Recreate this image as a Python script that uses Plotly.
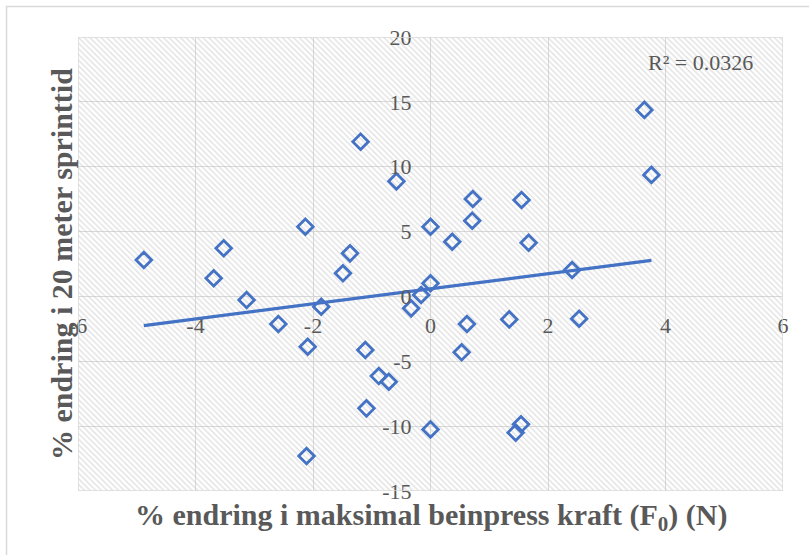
import numpy as np
import plotly.graph_objects as go

# Data
force_change = [-4.88, -3.69, -3.52, -3.13, -2.59, -2.13, -2.09, -2.11, -1.86, -1.49,
                -1.37, -1.19, -1.11, -1.09, -0.88, -0.71, -0.58, -0.33, -0.16, 0.00,
                0.00, 0.00, 0.37, 0.53, 0.62, 0.71, 0.72, 1.34, 1.45, 1.54,
                1.55, 1.67, 2.41, 2.53, 3.64, 3.76]
sprint_change = [2.81, 1.40, 3.71, -0.28, -2.13, 5.37, -3.88, -12.30, -0.79, 1.78,
                 3.32, 11.93, -4.13, -8.63, -6.14, -6.58, 8.87, -0.92, 0.11, 1.01,
                 5.37, -10.25, 4.22, -4.31, -2.13, 5.84, 7.51, -1.77, -10.50, -9.86,
                 7.43, 4.14, 2.04, -1.72, 14.38, 9.37]
x_ticks = [-6, -4, -2, 0, 2, 4, 6]
y_ticks = [-15, -10, -5, 0, 5, 10, 15, 20]
x_tick_labels = ["-6", "-4", "-2", "0", "2", "4", "6"]
y_tick_labels = ["-15", "-10", "-5", "0", "5", "10", "15", "20"]
x_title = "% endring i maksimal beinpress kraft (F<sub>0</sub>) (N)"
y_title = "% endring i 20 meter sprinttid"
r2_text = "R² = 0.0326"

BLUE = "#4472C4"
GRID = "#d9d9d9"
TXT = "#595959"
FONT = "Liberation Serif"

xr = [x_ticks[0], x_ticks[-1]]
yr = [y_ticks[0], y_ticks[-1]]

# linear trendline
slope, intercept = np.polyfit(force_change, sprint_change, 1)
tx = np.array([min(force_change), max(force_change)])
ty = slope * tx + intercept

fig = go.Figure()
# hatched plot-area background
fig.add_trace(go.Scatter(
    x=[xr[0], xr[1], xr[1], xr[0], xr[0]], y=[yr[0], yr[0], yr[1], yr[1], yr[0]],
    mode="lines", line=dict(width=0), fill="toself", fillcolor="rgba(0,0,0,0)",
    fillpattern=dict(shape="\\", fgcolor="#c4c4c4", bgcolor="rgba(0,0,0,0)",
                     size=4, solidity=0.35),
    hoverinfo="skip", showlegend=False))
fig.add_trace(go.Scatter(
    x=tx, y=ty, mode="lines", line=dict(color=BLUE, width=3.2),
    hoverinfo="skip", showlegend=False))
fig.add_trace(go.Scatter(
    x=force_change, y=sprint_change, mode="markers",
    marker=dict(symbol="diamond-open", size=12, color=BLUE, line=dict(width=2.8, color=BLUE)),
    showlegend=False))

fig.update_layout(
    width=809, height=555,
    margin=dict(l=78, r=26, t=37, b=64),
    paper_bgcolor="white", plot_bgcolor="white",
    font=dict(family=FONT, color=TXT, size=22),
    xaxis=dict(range=xr, tickvals=x_ticks, ticktext=x_tick_labels, showgrid=True,
               gridcolor=GRID, gridwidth=1.3,
               zeroline=True, zerolinecolor=GRID, zerolinewidth=1.3, showline=False,
               ticks="", anchor="free", position=(0 - yr[0]) / (yr[1] - yr[0]),
               ticklabelstandoff=14, tickfont=dict(family=FONT, size=22, color=TXT)),
    yaxis=dict(range=yr, tickvals=y_ticks, ticktext=y_tick_labels, showgrid=True,
               gridcolor=GRID, gridwidth=1.3,
               zeroline=True, zerolinecolor=GRID, zerolinewidth=1.3, showline=False,
               ticks="", anchor="free", position=(0 - xr[0]) / (xr[1] - xr[0]),
               ticklabelstandoff=19, tickfont=dict(family=FONT, size=22, color=TXT)),
    shapes=[
        dict(type="rect", xref="x", yref="y", x0=xr[0], x1=xr[1], y0=yr[0], y1=yr[1],
             line=dict(color=GRID, width=1.5), layer="above"),
        dict(type="rect", xref="paper", yref="paper", x0=-0.1014, x1=1.1, y0=-0.2, y1=1.067,
             line=dict(color=GRID, width=1.5), layer="below"),
    ],
    annotations=[
        dict(text=x_title, xref="paper", yref="paper", x=0.5, y=-0.057, xanchor="center",
             yanchor="middle", showarrow=False,
             font=dict(family=FONT, size=30, color=TXT, weight="bold")),
        dict(text=y_title, xref="paper", yref="paper", x=-0.024, y=0.5, xanchor="center",
             yanchor="middle", textangle=-90, showarrow=False,
             font=dict(family=FONT, size=30, color=TXT, weight="bold")),
        dict(text=r2_text, xref="x", yref="y", x=3.67, y=18.0, xanchor="left",
             yanchor="middle", showarrow=False, font=dict(family=FONT, size=22, color=TXT)),
    ],
)

fig.write_html("out.html", config={"displayModeBar": False},
               post_script="document.body.style.margin='0';")
